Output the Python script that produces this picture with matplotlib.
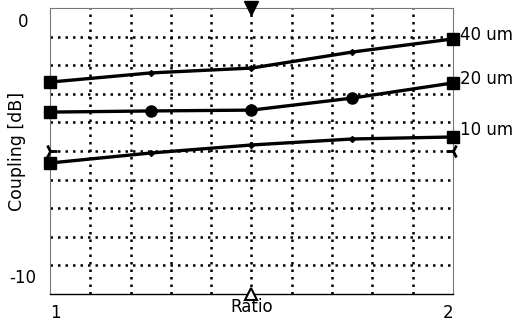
import numpy as np
import matplotlib.pyplot as plt

# coupling vs ratio for three gap widths
ratio = [1.0, 1.25, 1.5, 1.75, 2.0]
c40 = [-2.59, -2.27, -2.10, -1.54, -1.08]
c20 = [-3.64, -3.60, -3.57, -3.15, -2.62]
c10 = [-5.42, -5.07, -4.79, -4.58, -4.51]
names = ['40 um', '20 um', '10 um']

# cursor marks on the frame
cur_x = [1.5, 1.5, 1.0, 2.0]
cur_y = [0.0, -10.0, -5.0, -5.0]
cur_m = ['v', '^', '4', '3']

fig = plt.figure(figsize=(5.17, 3.27), dpi=100)
ax = fig.add_axes([0.0967, 0.101, 0.7795, 0.8745])
ax.set_xlim(1, 2)
ax.set_ylim(-10, 0)

# dotted grid
for gx in np.arange(1.1, 2.0, 0.1):
    ax.axvline(gx, color='black', lw=1.8, ls=(0, (1, 2.0)), zorder=1)
for gy in np.arange(-9, 0, 1):
    ax.axhline(gy, color='black', lw=1.8, ls=(0, (1, 2.0)), zorder=1)

series = [c40, c20, c10]
mid_marker = ['D', 'o', 'D']
mid_size = [3, 8, 3]
for s, mm, ms in zip(series, mid_marker, mid_size):
    ax.plot(ratio, s, color='black', lw=2.4, zorder=3)
    ax.plot(ratio[1:-1], s[1:-1], ls='none', marker=mm, ms=ms, color='black', zorder=4)
    ax.plot([ratio[0], ratio[-1]], [s[0], s[-1]], ls='none', marker='s', ms=8,
            color='black', zorder=4, clip_on=False)

for x, y, m in zip(cur_x, cur_y, cur_m):
    if m == '^':
        ax.plot(x, y, marker=m, ms=9, mfc='white', mec='black', mew=1.5,
                clip_on=False, zorder=5)
    elif m == 'v':
        ax.plot(x, y, marker=m, ms=10, color='black', clip_on=False, zorder=5)
    else:
        ax.plot(x, y, marker=m, ms=10, color='black', mew=2, clip_on=False, zorder=5)

# series labels at right end
label_off = [0.15, 0.15, 0.25]
for s, n, off in zip(series, names, label_off):
    ax.text(2.018, s[-1] + off, n, fontsize=12, va='center', ha='left', clip_on=False)

for side in ['left', 'top', 'right']:
    ax.spines[side].set_linestyle((0, (1, 1)))
    ax.spines[side].set_color('#777777')
    ax.spines[side].set_linewidth(0.8)
ax.spines['bottom'].set_linewidth(1.0)

ax.set_xticks([1, 2])
ax.set_xticklabels(['1', '2'], fontsize=12)
ax.set_yticks([])
ax.tick_params(length=0, pad=7)
xl = ax.get_xticklabels()
xl[0].set_ha('left')
xl[1].set_ha('right')

# y end labels, set a bit inside the frame ends
ax.text(-0.067, 0.95, '0', transform=ax.transAxes, fontsize=12, ha='center', va='center')
ax.text(-0.067, 0.055, '-10', transform=ax.transAxes, fontsize=12, ha='center', va='center')

ax.set_xlabel('Ratio', fontsize=12, labelpad=-17)
ax.set_ylabel('Coupling [dB]', fontsize=12.5)
ax.yaxis.set_label_coords(-0.06, 0.5)

fig.savefig('out.png', dpi=100)
